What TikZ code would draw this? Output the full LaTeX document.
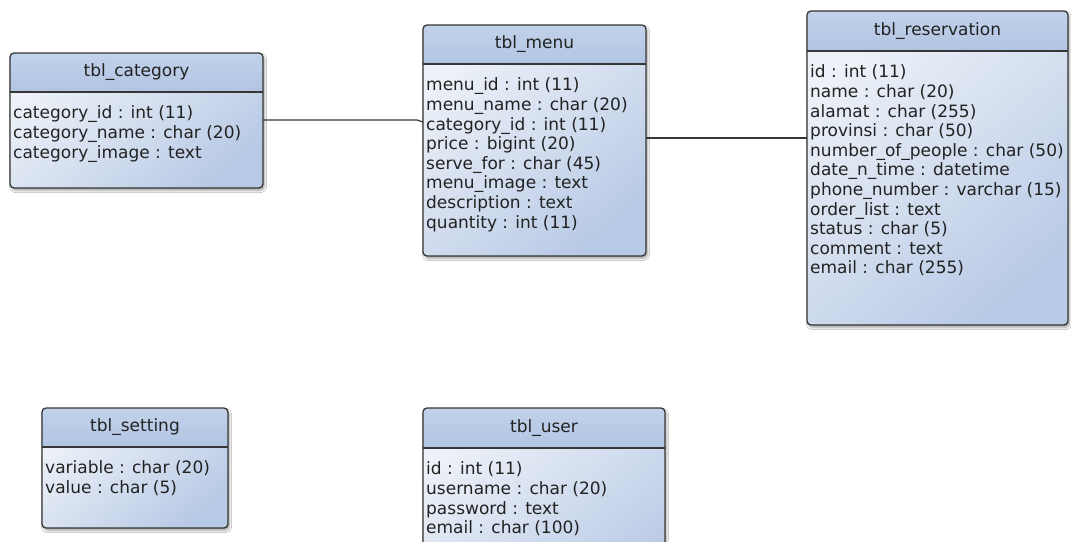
\documentclass[tikz,border=0pt]{standalone}
\usepackage{fontspec}
\setmainfont{DejaVu Sans}
\usetikzlibrary{shadows.blur}

\definecolor{erdborder}{HTML}{363636}
\definecolor{erdhead}{HTML}{B1C4E2}
\definecolor{erdheadtop}{HTML}{C2D2EA}
\definecolor{erdlight}{HTML}{EEF2F8}
\definecolor{erddark}{HTML}{B9CAE6}
\definecolor{erdtext}{HTML}{222222}

\tikzset{
  tablebody/.style={rectangle, rounded corners=4pt, inner sep=0pt, outer sep=0pt,
    top color=erdlight, bottom color=erddark, shading angle=40,
    blur shadow={shadow xshift=1.5pt, shadow yshift=-2.5pt, shadow blur steps=6, shadow opacity=35}},
  tableedge/.style={draw=erdborder, line width=1.3pt, rounded corners=4pt},
  headfill/.style={top color=erdheadtop, bottom color=erdhead},
  tabletitle/.style={font=\fontsize{17}{19.6}\selectfont, text=erdtext, inner sep=0pt},
  tablerows/.style={font=\fontsize{17}{19.6}\selectfont, align=left, anchor=north west,
    inner sep=0pt, text=erdtext},
  link/.style={draw=erdborder, line width=1.2pt},
}

% #1 name, #2 left, #3 top, #4 width, #5 height, #6 header height, #7 title, #8 rows
\newcommand{\erdtable}[8]{%
  \node[tablebody, minimum width=#4pt, minimum height=#5pt, anchor=north west] (#1) at (#2,#3) {};
  \begin{scope}
    \clip[rounded corners=4pt] (#1.north west) rectangle (#1.south east);
    \path[headfill] (#1.north west) rectangle ([yshift=-#6pt]#1.north east);
  \end{scope}
  \coordinate (#1-hl) at ([yshift=-#6pt]#1.north west);
  \coordinate (#1-hr) at ([yshift=-#6pt]#1.north east);
  \draw[erdborder, line width=1.2pt] (#1-hl) -- (#1-hr);
  \draw[tableedge] (#1.north west) rectangle (#1.south east);
  \node[tabletitle] (#1-title) at ([yshift={-#6pt/2}]#1.north) {#7};
  \node[tablerows] (#1-rows) at ([xshift=3pt, yshift=-13pt]#1-hl) {\strut #8};
}

\begin{document}
\begin{tikzpicture}[x=1pt, y=-1pt]
  \fill[white] (0,0) rectangle (1071,541);
  \clip (0,0) rectangle (1071,541);

  \erdtable{category}{10}{53}{253}{135}{39}{tbl\_category}
    {category\_id : int (11)\\category\_name : char (20)\\category\_image : text}

  \erdtable{menu}{423}{25}{223}{231}{39}{tbl\_menu}
    {menu\_id : int (11)\\menu\_name : char (20)\\category\_id : int (11)\\price : bigint (20)\\
     serve\_for : char (45)\\menu\_image : text\\description : text\\quantity : int (11)}

  \erdtable{reservation}{807}{11}{261}{314}{40}{tbl\_reservation}
    {id : int (11)\\name : char (20)\\alamat : char (255)\\provinsi : char (50)\\
     number\_of\_people : char (50)\\date\_n\_time : datetime\\phone\_number : varchar (15)\\
     order\_list : text\\status : char (5)\\comment : text\\email : char (255)}

  \erdtable{setting}{42}{408}{186}{120}{39}{tbl\_setting}
    {variable : char (20)\\value : char (5)}

  \erdtable{user}{423}{408}{242}{200}{40}{tbl\_user}
    {id : int (11)\\username : char (20)\\password : text\\email : char (100)}

  % relationships
  \coordinate (catbend) at (417,120);
  \draw[link] (category.east |- 0,120) -- (catbend) -- (menu.west |- 0,122);
  \draw[link] (menu.east |- 0,138) -- (reservation.west |- 0,138);
\end{tikzpicture}
\end{document}
